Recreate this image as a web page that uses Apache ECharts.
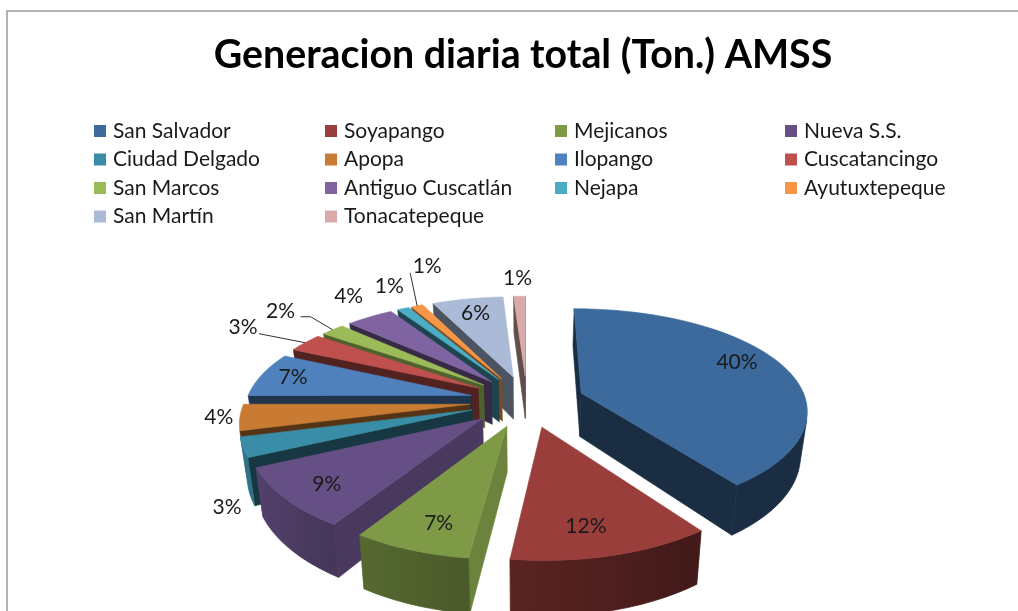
<!DOCTYPE html>
<html>
<head>
<meta charset="utf-8">
<title>Generacion diaria total</title>
<style>
  html, body { margin: 0; padding: 0; background: #fff; }
  #chart { width: 1018px; height: 611px; }
</style>
<script src="https://cdn.jsdelivr.net/npm/echarts@6/dist/echarts.min.js"></script>
</head>
<body>
<div id="chart"></div>
<script>
const names = ['San Salvador', 'Soyapango', 'Mejicanos', 'Nueva S.S.', 'Ciudad Delgado', 'Apopa', 'Ilopango',
  'Cuscatancingo', 'San Marcos', 'Antiguo Cuscatlán', 'Nejapa', 'Ayutuxtepeque', 'San Martín', 'Tonacatepeque'];
const values = [40, 12, 7, 9, 3, 4, 7, 3, 2, 4, 1, 1, 6, 1];
const colors = ['#3D6A9C', '#9A3E3B', '#7E9A46', '#664F84', '#3A8DA6', '#C97B33', '#4F81BD',
  '#C0504D', '#9BBB59', '#8064A2', '#4BACC6', '#F79646', '#AABAD7', '#D9AAA9'];
// darkening of the straight cut faces, slice by slice
const cutShade = [0.42, 0.5, 0.85, 0.72, 0.4, 0.42, 0.4, 0.42, 0.52, 0.42, 0.4, 0.5, 0.45, 0.45];
// label position relative to the middle of the slice's outer rim, px
const labelOffsets = [[-44, -2], [-27, -29], [28, -27], [42, -14], [-16, 60], [-21, 0], [31, 3],
  [-62, -15], [-52, -18], [-21, -21], [-14, -22], [10, -40], [8, 14], [-2, -18]];
// leader lines start from the label, optional elbow
const leaders = {
  7: [[16, 6]],
  8: [[20, 5], [30, 5]],
  11: [[-17, 7]]
};

// pie projection
const cx = 527, cy = 401, scaleX = 225, scaleY = 101, perspX = 0.15, perspY = 0.168;
const explode = 0.256, thickness = 44, bottomShrink = 0.975;

const total = values.reduce((a, b) => a + b, 0);
const rad = d => d * Math.PI / 180;

let acc = 0;
const slices = values.map(v => {
  const start = acc / total * 360;
  acc += v;
  return { start, end: acc / total * 360, mid: (start + acc / total * 360) / 2 };
});

function project(X, Y) {
  const p = 1 / (1 - perspY * Y);
  return { x: cx + scaleX * X / (1 - perspX * Y), y: cy + scaleY * Y * p, p };
}
function slicePoint(s, angle, r) {
  const ox = explode * Math.sin(rad(s.mid)), oy = -explode * Math.cos(rad(s.mid));
  return project(ox + r * Math.sin(rad(angle)), oy - r * Math.cos(rad(angle)));
}
function lower(pt) {
  return [cx + (pt.x - cx) * bottomShrink, pt.y + thickness * pt.p];
}
function shadeColor(hex, k) {
  const n = parseInt(hex.slice(1), 16);
  const c = [(n >> 16) & 255, (n >> 8) & 255, n & 255].map(v => Math.round(v * k));
  return 'rgb(' + c.join(',') + ')';
}
function rimShade(angle) {
  return 0.42 + Math.max(0, Math.min(angle, 270) - 144) * 0.48 / 126;
}
function area(pts) {
  let a = 0;
  pts.forEach((p, i) => {
    const q = pts[(i + 1) % pts.length];
    a += p[0] * q[1] - q[0] * p[1];
  });
  return a;
}
function poly(points, fill) {
  return { type: 'polygon', shape: { points }, style: { fill, stroke: fill, lineWidth: 0.6 } };
}
function faces(a, b) {
  return area([[a.x, a.y], [b.x, b.y], lower(b), lower(a)]) < 0;
}

function renderSlice(i) {
  const s = slices[i];
  const tip = slicePoint(s, 0, 0);
  const rim = [];
  const steps = Math.max(2, Math.ceil((s.end - s.start) / 3));
  for (let k = 0; k <= steps; k++) {
    const a = s.start + (s.end - s.start) * k / steps;
    rim.push({ pt: slicePoint(s, a, 1), a });
  }
  const children = [];

  // the two straight cut faces
  [[tip, rim[0].pt], [rim[steps].pt, tip]].forEach(([a, b]) => {
    if (faces(a, b)) {
      children.push(poly([[a.x, a.y], [b.x, b.y], lower(b), lower(a)], shadeColor(colors[i], cutShade[i])));
    }
  });

  // curved outer wall: one polygon over the part turned to the viewer
  const run = rim.filter((r, k) => (k < steps && faces(r.pt, rim[k + 1].pt)) || (k > 0 && faces(rim[k - 1].pt, r.pt)));
  if (run.length > 1) {
    const first = run[0], last = run[run.length - 1];
    const wall = run.map(r => [r.pt.x, r.pt.y]).concat(run.slice().reverse().map(r => lower(r.pt)));
    const c0 = shadeColor(colors[i], rimShade(first.a)), c1 = shadeColor(colors[i], rimShade(last.a));
    const grad = new echarts.graphic.LinearGradient(first.pt.x, 0, last.pt.x, 0, [
      { offset: 0, color: c0 }, { offset: 1, color: c1 }
    ], true);
    children.push({ type: 'polygon', shape: { points: wall }, style: { fill: grad, stroke: grad, lineWidth: 0.8 } });
  }

  children.push(poly([[tip.x, tip.y]].concat(rim.map(r => [r.pt.x, r.pt.y])), colors[i]));

  const anchor = slicePoint(s, s.mid, 1);
  const lx = anchor.x + labelOffsets[i][0], ly = anchor.y + labelOffsets[i][1];
  if (leaders[i]) {
    const pts = leaders[i].map(o => [lx + o[0], ly + o[1]]).concat([[anchor.x, anchor.y]]);
    children.push({ type: 'polyline', shape: { points: pts }, style: { stroke: '#333', lineWidth: 1, fill: 'none' } });
  }
  children.push({
    type: 'text',
    style: {
      text: Math.round(values[i] / total * 100) + '%', x: lx, y: ly, align: 'center', verticalAlign: 'middle',
      fill: '#1a1a1a', font: '21px Lato'
    }
  });
  return { type: 'group', children };
}

const series = names.map((name, i) => ({
  type: 'custom',
  name,
  coordinateSystem: 'none',
  silent: true,
  z: 2 + Math.round((1 - Math.cos(rad(slices[i].mid))) * 50),
  itemStyle: { color: colors[i] },
  data: [[values[i]]],
  renderItem: () => renderSlice(i)
}));

const columnLeft = [94, 325, 555, 785];
const legend = columnLeft.map((left, c) => ({
  orient: 'vertical',
  left,
  top: 119,
  padding: 0,
  itemWidth: 12,
  itemHeight: 12,
  itemGap: 4.5,
  icon: 'rect',
  selectedMode: false,
  textStyle: { fontFamily: 'Lato', fontSize: 21, color: '#1a1a1a', lineHeight: 24, padding: [0, 0, 0, 2] },
  data: names.filter((n, i) => i % 4 === c)
}));

const chart = echarts.init(document.getElementById('chart'));
chart.setOption({
  backgroundColor: '#fff',
  animation: false,
  title: {
    text: 'Generacion diaria total (Ton.) AMSS',
    left: 518,
    top: 31,
    textAlign: 'center',
    textStyle: { fontFamily: 'Lato', fontSize: 39.3, fontWeight: 'bold', color: '#000' }
  },
  legend,
  graphic: [
    { type: 'polyline', shape: { points: [[7, 611], [7, 11], [1018, 11]] }, style: { stroke: '#9a9a9a', lineWidth: 1.5, fill: 'none' }, silent: true }
  ],
  series
});
</script>
</body>
</html>
